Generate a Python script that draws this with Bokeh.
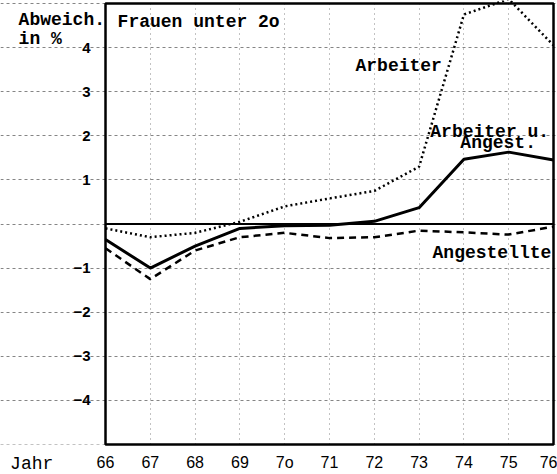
from bokeh.plotting import figure
from bokeh.models import FixedTicker, Label, Range1d, BoxAnnotation
from bokeh.embed import file_html
from bokeh.resources import INLINE

# --- data ---
years = [66, 67, 68, 69, 70, 71, 72, 73, 74, 75, 76]
year_labels = ["66", "67", "68", "69", "7o", "71", "72", "73", "74", "75", "76"]
arbeiter = [-0.1, -0.3, -0.2, 0.05, 0.4, 0.58, 0.75, 1.3, 4.75, 5.1, 4.05]
arb_u_angest = [-0.35, -1.0, -0.5, -0.1, -0.04, -0.03, 0.06, 0.37, 1.47, 1.63, 1.45]
angestellte = [-0.55, -1.25, -0.6, -0.3, -0.2, -0.32, -0.3, -0.15, -0.19, -0.24, -0.06]
y_ticks = [-5, -4, -3, -2, -1, 0, 1, 2, 3, 4, 5]
y_tick_labels = ["", "−4", "−3", "−2", "−1", "", "1", "2", "3", "4", ""]
y_min, y_max = -5, 5

MONO = "Liberation Mono"
SANS = "Liberation Sans"

p = figure(width=557, height=474, x_range=Range1d(63.656, 76.089), y_range=Range1d(-5.68, 5.068),
           output_backend="svg", toolbar_location=None,
           min_border_left=0, min_border_right=0, min_border_top=0, min_border_bottom=0)
p.background_fill_color = "white"
p.border_fill_color = "white"
p.outline_line_color = None

# x axis, drawn at the bottom edge of the box
xa = p.xaxis[0]
xa.fixed_location = y_min
xa.ticker = FixedTicker(ticks=years)
xa.major_label_overrides = dict(zip(years, year_labels))
xa.major_tick_out = 0
xa.major_tick_in = 0
xa.minor_tick_out = 0
xa.axis_line_color = None
xa.major_label_standoff = 9
xa.major_label_text_font = SANS
xa.major_label_text_font_size = "16px"
xa.major_label_text_color = "black"

# y axis, drawn at the left edge of the box
ya = p.yaxis[0]
ya.fixed_location = years[0]
ya.ticker = FixedTicker(ticks=y_ticks)
ya.major_label_overrides = dict(zip(y_ticks, y_tick_labels))
ya.major_tick_out = 0
ya.major_tick_in = 0
ya.minor_tick_out = 0
ya.axis_line_color = None
ya.major_label_standoff = 15
ya.major_label_text_font = SANS
ya.major_label_text_font_style = "bold"
ya.major_label_text_font_size = "15px"
ya.major_label_text_color = "black"

# grids
p.xgrid.ticker = FixedTicker(ticks=years)
p.xgrid.grid_line_color = "#222222"
p.xgrid.grid_line_dash = "1 4"
p.xgrid.grid_line_alpha = 0.55
p.ygrid.ticker = FixedTicker(ticks=y_ticks)
p.ygrid.grid_line_color = "#333333"
p.ygrid.grid_line_dash = "3 3"
p.ygrid.grid_line_alpha = 0.6

# white cover below the box so vertical grid lines stop at its bottom edge
p.add_layout(BoxAnnotation(top=y_min, fill_color="white", fill_alpha=1.0,
                           line_color=None, level="underlay"))

# the box
p.add_layout(BoxAnnotation(left=years[0], right=years[-1], bottom=y_min, top=y_max,
                           fill_alpha=0, line_color="black", line_width=2.5, line_alpha=1.0))

# zero line within the box
p.line([years[0], years[-1]], [0, 0], line_color="black", line_width=2)

# series
p.line(years, arbeiter, line_color="black", line_width=2.5, line_dash="2 3")
p.line(years, arb_u_angest, line_color="black", line_width=3)
p.line(years, angestellte, line_color="black", line_width=2.5, line_dash="7 5")

def lab(x, y, text, size="18px", font=MONO, bold=True):
    p.add_layout(Label(x=x, y=y, text=text, text_font=font, text_font_size=size,
                       text_font_style="bold" if bold else "normal",
                       text_baseline="top", text_align="left", text_color="black"))

lab(64.06, 4.86, "Abweich.")
lab(64.06, 4.43, "in %")
lab(66.27, 4.80, "Frauen unter 2o")
lab(71.58, 3.80, "Arbeiter")
lab(73.25, 2.32, "Arbeiter u.")
lab(73.92, 2.07, "Angest.")
lab(73.30, -0.42, "Angestellte")
lab(63.87, -5.22, "Jahr", bold=False)

open("out.html", "w").write(file_html(p, INLINE))
